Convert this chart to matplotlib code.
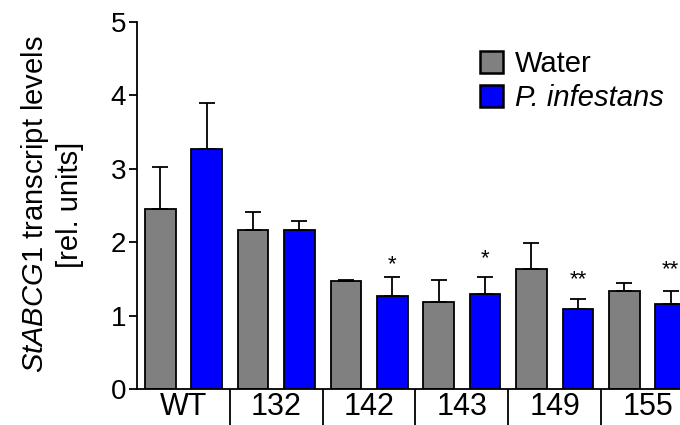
import numpy as np
import matplotlib
matplotlib.use("Agg")
import matplotlib.pyplot as plt

plt.rcParams['font.family'] = ['Liberation Sans', 'DejaVu Sans']
plt.rcParams['mathtext.fontset'] = 'custom'
plt.rcParams['mathtext.rm'] = 'Liberation Sans'
plt.rcParams['mathtext.it'] = 'Liberation Sans:italic'

lines = ['WT', '132', '142', '143', '149', '155']
water = [2.45, 2.16, 1.47, 1.19, 1.64, 1.34]
water_err = [0.57, 0.25, 0.01, 0.29, 0.35, 0.10]
infestans = [3.27, 2.17, 1.27, 1.30, 1.09, 1.16]
infestans_err = [0.63, 0.12, 0.26, 0.22, 0.13, 0.18]
stars = ['', '', '*', '*', '**', '**']
star_y = [0, 0, 1.70, 1.78, 1.49, 1.63]

x = np.arange(len(lines))
w = 0.33
off = 0.25

fig = plt.figure(figsize=(6.8, 4.25), dpi=100)
ax = fig.add_axes([0.2015, 0.0847, 0.7985, 0.8635])

ax.bar(x - off, water, w, color='#808080', edgecolor='black', linewidth=1.3,
       yerr=[np.zeros(6), water_err], capsize=6,
       error_kw=dict(elinewidth=1.3, capthick=1.3, ecolor='black'),
       label='Water', zorder=2)
ax.bar(x + off, infestans, w, color='#0000ff', edgecolor='black', linewidth=1.3,
       yerr=[np.zeros(6), infestans_err], capsize=6,
       error_kw=dict(elinewidth=1.3, capthick=1.3, ecolor='black'),
       label='P. infestans', zorder=2)

for i, s in enumerate(stars):
    if s:
        ax.text(x[i] + off, star_y[i], s, ha='center', va='center', fontsize=16)

ax.set_xlim(-0.5, 5.35)
ax.set_ylim(0, 5)
ax.set_yticks(range(6))
ax.tick_params(axis='y', labelsize=20, width=1.3, length=6, direction='out', pad=2)

ax.set_xticks(x)
ax.set_xticklabels(lines, fontsize=22)
ax.tick_params(axis='x', which='major', length=0, pad=2)
ax.set_xticks(x[:-1] + 0.5, minor=True)
ax.tick_params(axis='x', which='minor', length=27, width=1.3, direction='out')

for sp in ['top', 'right']:
    ax.spines[sp].set_visible(False)
ax.spines['left'].set_linewidth(1.3)
ax.spines['bottom'].set_linewidth(1.3)

fig.text(0.0757, 0.519, '$\\mathit{StABCG1}$ transcript levels\n[rel. units]',
         rotation=90, ha='center', va='center', multialignment='center',
         fontsize=21, linespacing=1.25)

leg = ax.legend(loc='upper left', bbox_to_anchor=(0.61, 0.955), frameon=False,
                fontsize=21, handlelength=0.8, handleheight=0.8,
                handletextpad=0.4, labelspacing=0.2, borderaxespad=0)
leg.get_texts()[1].set_style('italic')
for p in leg.get_patches():
    p.set_linewidth(1.8)

fig.savefig('out.png', dpi=100)
